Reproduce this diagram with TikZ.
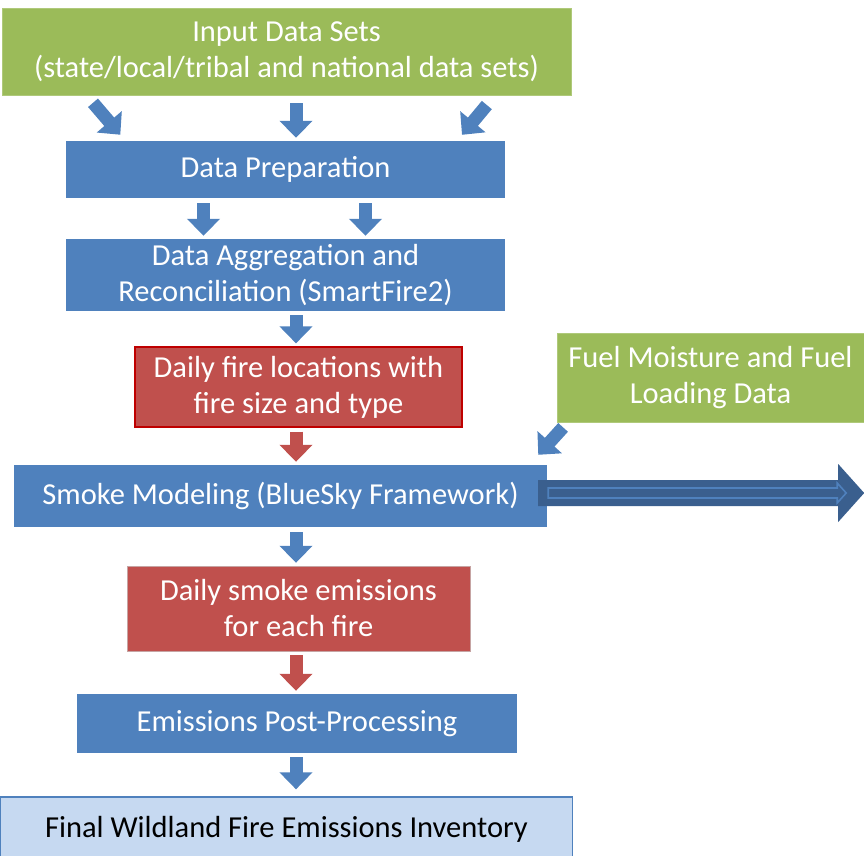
\documentclass[tikz,border=0pt]{standalone}
\usepackage{fontspec}
\setmainfont{Carlito}
\usetikzlibrary{arrows.meta}
\definecolor{ogreen}{HTML}{9BBB59}
\definecolor{oblue}{HTML}{4F81BD}
\definecolor{ored}{HTML}{C0504D}
\definecolor{odark}{HTML}{3A5F8E}
\definecolor{olight}{HTML}{C6D9F1}
\tikzset{
	box/.style={inner sep=0pt, align=center, text=white, font=\fontsize{30.5}{36}\selectfont},
	greenbox/.style={box, fill=ogreen, draw=ogreen!80!white, thin},
	bluebox/.style={box, fill=oblue},
	redbox/.style={box, fill=ored},
	barrow/.style={draw=oblue, line width=13pt, -{Triangle[width=32pt,length=17pt]}, shorten <=4pt, shorten >=3pt},
	rarrow/.style={barrow, draw=ored}
}
\begin{document}
\begin{tikzpicture}[x=1pt,y=-1pt]
	\useasboundingbox (0,0) rectangle (864,855);
	\node[greenbox, minimum width=569pt, minimum height=87pt] (input) at (286.5,51.5) {Input Data Sets\\(state/local/tribal and national data sets)};
	\node[bluebox, minimum width=439pt, minimum height=57pt] (prep) at (285.5,169.5) {Data Preparation};
	\node[bluebox, minimum width=439pt, minimum height=72pt] (aggr) at (285.5,275) {Data Aggregation and\\Reconciliation (SmartFire2)};
	\node[redbox, draw=red!75!black, line width=1.2pt, minimum width=327pt, minimum height=80pt] (locs) at (298.5,387) {Daily fire locations with\\fire size and type};
	\node[greenbox, minimum width=307pt, minimum height=89pt] (fuel) at (710.5,377.5) {Fuel Moisture and Fuel\\Loading Data};
	\node[bluebox, minimum width=533pt, minimum height=62pt] (smoke) at (280.5,496) {Smoke Modeling (BlueSky Framework)};
	\node[redbox, draw=ored!50!gray!60!white, thin, minimum width=343pt, minimum height=85pt] (emis) at (298.5,608.5) {Daily smoke emissions\\for each fire};
	\node[bluebox, minimum width=440pt, minimum height=59pt] (post) at (297,723.5) {Emissions Post-Processing};
	\node[box, text=black, fill=olight, draw=oblue, line width=1.3pt, minimum width=572pt, minimum height=64pt] (final) at (286.5,829) {Final Wildland Fire Emissions Inventory};
	% block arrows between the boxes
	\draw[barrow, shorten <=10pt, shorten >=8pt] ([xshift=-200pt]input.south) -- ([xshift=-160pt]prep.north);
	\draw[barrow, shorten <=8pt] ([xshift=9.5pt]input.south) -- ([xshift=10.5pt]prep.north);
	\draw[barrow, shorten <=12.8pt, shorten >=7.8pt] ([xshift=208.5pt]input.south) -- ([xshift=171.5pt]prep.north);
	\foreach \dx in {-82,80}
	\draw[barrow, shorten <=5pt] ([xshift=\dx pt]prep.south) -- ([xshift=\dx pt]aggr.north);
	\draw[barrow] ([xshift=10.5pt]aggr.south) -- ([xshift=-2.5pt]locs.north);
	\draw[rarrow] ([xshift=-2.5pt]locs.south) -- ([xshift=15.5pt]smoke.north);
	\draw[barrow, shorten <=5pt] ([xshift=15.5pt]smoke.south) -- ([xshift=-2.5pt]emis.north);
	\draw[rarrow] ([xshift=-2.5pt]emis.south) -- ([xshift=-1pt]post.north);
	\draw[barrow, shorten >=7pt] ([xshift=-1pt]post.south) -- ([xshift=9.5pt]final.north);
	\draw[barrow, shorten <=7pt, shorten >=13.5pt] ([xshift=11pt]fuel.south west) -- ([xshift=-18pt]smoke.north east);
	% outlined arrow leaving the smoke model
	\fill[odark] ([xshift=-9pt,yshift=3pt]smoke.east) coordinate (out) ++(0,-13) -- ++(300,0) -- ++(0,-16) -- ++(26,29) -- ++(-26,29) -- ++(0,-16) -- ++(-300,0) -- cycle;
	\draw[oblue, line width=1.6pt, line join=miter] ([xshift=10pt]out) ++(0,-5) -- ++(289,0) -- ++(0,-5) -- ++(9,10) -- ++(-9,10) -- ++(0,-5) -- ++(-289,0) -- cycle;
\end{tikzpicture}
\end{document}
